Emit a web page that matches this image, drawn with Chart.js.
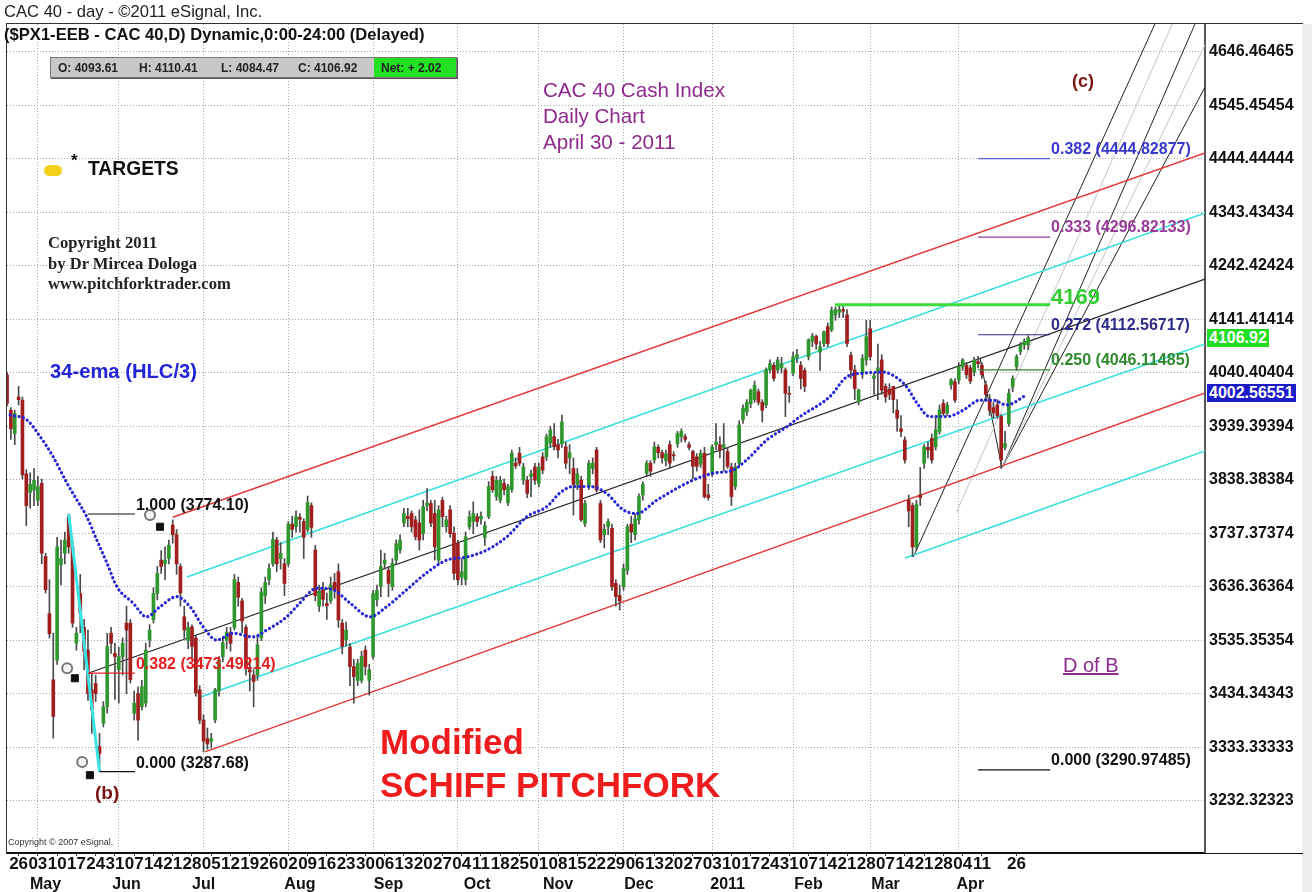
<!DOCTYPE html>
<html>
<head>
<meta charset="utf-8">
<script src="https://cdn.jsdelivr.net/npm/chart.js@4.4.1/dist/chart.umd.min.js"></script>
<style>
  html, body { margin: 0; padding: 0; background: #fff; }
  #wrap { position: relative; width: 1312px; height: 892px; overflow: hidden; font-family: "Liberation Sans", Arial, sans-serif; }
  #c { position: absolute; left: 0; top: 0; }
  .t { position: absolute; white-space: nowrap; line-height: 1; }
  #frame { position: absolute; left: 6px; top: 23px; width: 1296px; height: 829px; border-top: 1px solid #333; border-left: 1px solid #333; border-bottom: 1px solid #111; pointer-events: none; }
  #strip { position: absolute; left: 1302px; top: 24px; width: 10px; height: 868px; background: #eeeeee; }
  #ohlc { position: absolute; left: 50px; top: 57px; width: 405px; height: 19px; background: #c8c8c8; border: 1px solid #777; box-shadow: 1px 1px 0 #555; font-size: 12px; font-weight: bold; color: #222; }
  #ohlc span { position: absolute; top: 3px; }
  #net { position: absolute; left: 323px; top: 0; width: 82px; height: 19px; background: #22e022; }
  .fib { position: absolute; white-space: nowrap; line-height: 1; font-size: 16px; font-weight: bold; }
  .pbox { position: absolute; white-space: nowrap; line-height: 18px; height: 18px; font-size: 16px; font-weight: bold; color: #fff; padding: 0 2px; }
</style>
</head>
<body>
<div id="wrap">
  <canvas id="c" width="1312" height="892"></canvas>
  <div id="strip"></div>
  <div id="frame"></div>

  <div class="t" style="left:4px;top:4px;font-size:16.6px;color:#222;">CAC 40 - day - ©2011 eSignal, Inc.</div>
  <div class="t" style="left:4px;top:27px;font-size:16.6px;font-weight:bold;color:#111;">($PX1-EEB - CAC 40,D) Dynamic,0:00-24:00 (Delayed)</div>
  <div id="ohlc">
    <span style="left:7px;">O: 4093.61</span>
    <span style="left:88px;">H: 4110.41</span>
    <span style="left:170px;">L: 4084.47</span>
    <span style="left:247px;">C: 4106.92</span>
    <div id="net"><span style="left:7px;">Net: + 2.02</span></div>
  </div>

  <div class="t" style="left:543px;top:80px;font-size:20.6px;color:#8e2a8e;">CAC 40 Cash Index</div>
  <div class="t" style="left:543px;top:106px;font-size:20.6px;color:#8e2a8e;">Daily Chart</div>
  <div class="t" style="left:543px;top:132px;font-size:20.6px;color:#8e2a8e;">April 30 - 2011</div>

  <div class="t" style="left:44px;top:165px;width:18px;height:11px;border-radius:6px;background:#f4d21c;"></div>
  <div class="t" style="left:71px;top:152px;font-size:17px;font-weight:bold;color:#111;">*</div>
  <div class="t" style="left:88px;top:159px;font-size:19.3px;font-weight:bold;color:#111;">TARGETS</div>

  <div class="t" style="left:48px;top:235px;font-size:16.6px;font-weight:bold;font-family:'Liberation Serif',serif;color:#222;">Copyright 2011</div>
  <div class="t" style="left:48px;top:256px;font-size:16.6px;font-weight:bold;font-family:'Liberation Serif',serif;color:#222;">by Dr Mircea Dologa</div>
  <div class="t" style="left:48px;top:276px;font-size:16.6px;font-weight:bold;font-family:'Liberation Serif',serif;color:#222;">www.pitchforktrader.com</div>

  <div class="t" style="left:50px;top:361px;font-size:20.2px;font-weight:bold;color:#2424d8;">34-ema (HLC/3)</div>

  <div class="t" style="left:380px;top:724px;font-size:35px;font-weight:bold;color:#ee1c1c;">Modified</div>
  <div class="t" style="left:380px;top:767px;font-size:35px;font-weight:bold;color:#ee1c1c;">SCHIFF PITCHFORK</div>

  <div class="t" style="left:1063px;top:655px;font-size:20px;color:#8e2a8e;text-decoration:underline;">D of B</div>
  <div class="t" style="left:1072px;top:72px;font-size:18px;font-weight:bold;color:#7a1414;">(c)</div>
  <div class="t" style="left:95px;top:783px;font-size:19px;font-weight:bold;color:#7a1414;">(b)</div>
  <div class="t" style="left:8px;top:838px;font-size:9px;color:#333;">Copyright © 2007 eSignal.</div>

  <div id="fibs"></div>
</div>

<script>
// --- Price data (trading-day index starts at firstDay; day 0 = 26 Apr 2010) ---
const firstDay = -3;

const openPx = [4037,3970,3926,3995,3989,3850,3815,3819,3800,3832,3694,3586,3461,3498,3678,3700,3769,3712,3530,3624,3560,3517,3442,3454,3335,3379,3410,3549,3511,3480,3505,3568,3568,3398,3435,3410,3417,3536,3574,3624,3687,3680,3690,3753,3735,3675,3580,3535,3561,3540,3442,3385,3350,3345,3385,3440,3505,3535,3550,3560,3645,3610,3560,3480,3470,3470,3540,3620,3650,3680,3725,3690,3680,3680,3755,3750,3768,3760,3745,3790,3706,3600,3630,3605,3610,3645,3665,3568,3536,3523,3486,3460,3460,3517,3460,3505,3612,3637,3680,3668,3637,3687,3706,3757,3770,3775,3763,3757,3737,3790,3794,3775,3687,3800,3750,3782,3738,3719,3655,3650,3750,3760,3769,3765,3730,3769,3845,3807,3800,3832,3795,3820,3870,3889,3838,3838,3845,3863,3832,3882,3882,3908,3920,3905,3907,3901,3880,3860,3830,3838,3756,3826,3860,3895,3794,3735,3750,3747,3643,3620,3637,3668,3755,3735,3763,3810,3851,3870,3876,3900,3890,3875,3905,3885,3907,3920,3920,3905,3892,3882,3868,3889,3810,3851,3905,3905,3900,3892,3863,3826,3870,3952,3967,3982,3990,4005,3985,3980,4046,4055,4046,4050,4046,4002,4040,4070,4055,4045,4071,4100,4110,4080,4096,4128,4122,4150,4155,4160,4150,4074,4046,3986,4040,4065,4124,4030,4045,4065,4015,4010,4015,3970,3935,3914,3800,3790,3712,3810,3870,3900,3917,3901,3930,3983,3965,4018,4024,4027,4052,4055,4050,4042,4062,4055,4018,3989,3975,3980,3958,3900,3945,4014,4052,4081,4093,4093.61];
const highPx = [4042,3975,3970,4015,3995,3858,3852,3860,3845,3840,3700,3650,3549,3730,3725,3740,3774.1,3725,3560,3660,3575,3555,3473,3470,3360,3420,3549,3560,3530,3523,3540,3600,3575,3440,3448,3460,3530,3565,3635,3675,3705,3712,3725,3763,3745,3680,3600,3570,3565,3545,3450,3395,3370,3360,3445,3505,3540,3560,3560,3660,3655,3615,3565,3500,3480,3545,3635,3655,3680,3740,3730,3720,3690,3760,3770,3780,3775,3765,3808,3795,3715,3640,3645,3625,3655,3662,3680,3575,3570,3530,3500,3500,3515,3525,3490,3630,3640,3706,3700,3675,3690,3725,3735,3785,3785,3780,3770,3782,3800,3822,3800,3800,3790,3806,3770,3790,3750,3725,3690,3740,3780,3797,3775,3778,3760,3835,3855,3845,3845,3840,3830,3895,3880,3900,3870,3845,3857,3870,3870,3890,3925,3940,3945,3915,3961,3910,3905,3880,3860,3845,3800,3875,3880,3900,3800,3755,3765,3755,3650,3640,3680,3755,3770,3775,3812,3835,3875,3875,3910,3905,3895,3895,3912,3892,3930,3935,3925,3910,3895,3888,3895,3900,3830,3905,3945,3920,3945,3900,3870,3870,3950,3980,3990,4010,4025,4010,3990,4050,4065,4060,4070,4070,4050,4015,4080,4085,4062,4050,4105,4115,4112,4100,4120,4135,4165,4165,4169,4166,4160,4080,4055,4010,4075,4140,4140,4040,4095,4075,4020,4020,4015,3990,3960,3920,3810,3795,3800,3862,3905,3910,3925,3960,3980,3990,3985,4030,4030,4060,4068,4060,4055,4070,4072,4060,4025,4000,3985,3990,3962,3930,4010,4035,4075,4098,4105,4110.41];
const lowPx = [3978,3915,3905,3980,3840,3752,3785,3790,3790,3680,3625,3540,3351,3490,3640,3680,3700,3560,3517,3550,3480,3422,3360,3420,3287.68,3372,3398,3511,3424,3417,3470,3435,3455,3385,3347,3404,3410,3523,3568,3612,3662,3650,3680,3719,3660,3600,3540,3520,3500,3430,3378,3325,3330,3332,3380,3430,3495,3520,3515,3555,3600,3550,3470,3440,3410,3460,3535,3605,3640,3675,3665,3670,3620,3675,3730,3740,3740,3690,3740,3730,3610,3590,3600,3575,3605,3615,3560,3510,3525,3450,3417,3450,3455,3470,3432,3500,3600,3618,3670,3618,3630,3680,3700,3750,3750,3740,3725,3706,3725,3780,3750,3687,3680,3750,3740,3730,3650,3640,3640,3640,3745,3737,3750,3755,3715,3765,3815,3800,3795,3810,3790,3815,3860,3865,3830,3805,3807,3830,3825,3850,3875,3900,3895,3880,3900,3860,3850,3772,3820,3760,3750,3820,3850,3815,3720,3710,3735,3630,3600,3593,3630,3660,3720,3725,3755,3800,3845,3845,3870,3880,3870,3865,3860,3875,3900,3910,3910,3895,3841,3855,3862,3804,3800,3845,3895,3880,3855,3860,3790,3820,3865,3945,3960,3975,3985,3980,3948,3975,4040,4025,4040,4040,3958,3985,4035,4060,4010,4005,4065,4090,4085,4045,4090,4090,4118,4140,4145,4145,4090,4030,3990,3980,4030,4055,4065,4000,3990,4000,3985,3990,3965,3930,3920,3870,3750,3694,3705,3790,3860,3880,3870,3895,3925,3960,3960,4010,3985,4020,4045,4030,4020,4035,4050,4030,3990,3960,3955,3955,3860,3895,3940,4005,4045,4075,4085,4084.47];
const closePx = [3983,3935,3964,3990,3848,3790,3830,3838,3826,3700,3631,3548,3392,3712,3690,3725,3712,3568,3549,3587,3515,3435,3404,3435,3322,3410,3524,3530,3505,3505,3530,3555,3461,3417,3385,3448,3517,3555,3624,3662,3675,3687,3715,3735,3680,3625,3555,3560,3524,3436,3385,3345,3340,3350,3442,3498,3531,3551,3530,3650,3617,3572,3484,3476,3458,3527,3627,3645,3671,3726,3680,3700,3643,3755,3745,3769,3764,3730,3796,3749,3620,3628,3613,3601,3640,3631,3574,3524,3555,3486,3467,3492,3505,3486,3480,3624,3630,3675,3687,3643,3681,3718,3725,3775,3765,3750,3731,3725,3788,3795,3757,3712,3782,3769,3763,3737,3662,3650,3665,3731,3769,3775,3760,3770,3752,3826,3820,3838,3838,3820,3826,3889,3865,3870,3863,3813,3850,3838,3863,3857,3920,3933,3901,3895,3948,3870,3890,3830,3850,3763,3794,3870,3870,3819,3725,3745,3760,3637,3618,3610,3671,3750,3740,3765,3807,3830,3870,3855,3901,3890,3880,3888,3870,3884,3926,3930,3915,3900,3864,3864,3889,3807,3805,3901,3910,3895,3905,3864,3807,3863,3942,3974,3985,4008,4017,3985,3970,4046,4058,4030,4065,4058,4002,4000,4071,4075,4030,4015,4103,4110,4095,4090,4118,4096,4159,4160,4160,4157,4096,4046,4011,4008,4068,4109,4071,4035,4050,4008,3995,4000,3990,3955,3930,3876,3780,3712,3792,3805,3901,3895,3876,3933,3971,3964,3980,4027,3989,4052,4065,4037,4025,4065,4058,4037,4000,3970,3965,3960,3876,3907,4002,4030,4071,4093,4100,4106.92];

// 34-ema (HLC/3): [day, value]
const emaDays = [-2.2,2.1,5.6,8.9,12.5,15.1,17.7,20.3,22.9,25.5,29.7,33.2,36.7,41.0,44.5,47.9,51.4,55.6,60.8,64.4,69.6,73.0,77.4,81.6,86.0,91.2,95.5,100.7,105.9,111.1,116.3,121.5,126.7,131.9,137.1,140.5,143.9,148.3,152.6,156.9,160.4,165.6,171.7,175.0,180.2,185.4,188.9,194.2,199.4,202.8,210.6,214.9,219.2,224.4,228.0,230.5,233.1,236.5,240.9,245.1,249.5,252.9,256.4,261.6];
const emaValues = [3961,3952,3920,3883,3833,3801,3769,3725,3682,3637,3606,3580,3599,3618,3599,3561,3536,3549,3542,3555,3580,3606,3634,3631,3606,3580,3599,3631,3663,3687,3693,3706,3731,3769,3788,3814,3826,3826,3813,3782,3775,3800,3826,3838,3851,3857,3876,3914,3939,3958,3996,4033,4040,4042,4031,4014,3984,3958,3958,3970,3989,3989,3980,3999];

// --- Axis ticks ---
const weekTickDays = [0,5,10,15,20,25,30,35,40,45,50,55,60,65,70,75,80,85,90,95,100,105,110,115,120,125,130,135,140,145,150,155,160,165,170,175,180,185,190,195,200,205,210,215,220,225,230,235,240,245,250,259];
const weekTickLabels = ['26','03','10','17','24','31','07','14','21','28','05','12','19','26','02','09','16','23','30','06','13','20','27','04','11','18','25','01','08','15','22','29','06','13','20','27','03','10','17','24','31','07','14','21','28','07','14','21','28','04','11','26'];
const monthLabelDays = [7,28,48,73,96,119,140,161,184,205,225,247];
const monthLabels = ['May','Jun','Jul','Aug','Sep','Oct','Nov','Dec','2011','Feb','Mar','Apr'];
const monthStartDays = [5,26,48,70,92,114,135,157,180,201,221,244];
const priceTickValues = [3232.32323,3333.33333,3434.34343,3535.35354,3636.36364,3737.37374,3838.38384,3939.39394,4040.40404,4141.41414,4242.42424,4343.43434,4444.44444,4545.45454,4646.46465];
const priceTickLabels = ['3232.32323','3333.33333','3434.34343','3535.35354','3636.36364','3737.37374','3838.38384','3939.39394','4040.40404','4141.41414','4242.42424','4343.43434','4444.44444','4545.45454','4646.46465'];

// --- Pitchfork drawing: [day, price] end points ---
const forkUpperRed = [[40, 3768], [307.9, 4455.7]];
const forkUpperCyan = [[43.7, 3655], [307.9, 4342.5]];
const forkMedian = [[18, 3473.5], [307.9, 4217.8]];
const forkLowerCyan = [[47, 3428], [307.9, 4095]];
const forkLowerRed = [[48.4, 3325], [307.9, 4002.56551]];
const extraCyan = [[230.1, 3691], [307.9, 3893]];
const swingBC = [[13, 3774.1], [21, 3287.68]];
const steepBlack1 = [[232.2, 3693], [294.9, 4699.3]];
const steepBlack2 = [[255.2, 3861], [305.3, 4699.3]];
const steepBlack3 = [[255.2, 3861], [307.9, 4580]];
const steepGrey1 = [[243.4, 3777], [299.4, 4699.3]];
const steepGrey2 = [[255.2, 3861], [307.9, 4660]];
const aprilSwing = [[249.5, 4069], [255.2, 3861]];

// --- Fibonacci levels ---
const leftFibValues = [3774.10, 3473.49214, 3287.68];
const leftFibLabels = ['1.000 (3774.10)', '0.382 (3473.49214)', '0.000 (3287.68)'];
const leftFibStart = [18, 18, 21];
const leftFibEnd = 30.2;
const rightFibValues = [4444.82877, 4296.82133, 4112.56717, 4046.11485, 3290.97485];
const rightFibLabels = ['0.382 (4444.82877)', '0.333 (4296.82133)', '0.272 (4112.56717)', '0.250 (4046.11485)', '0.000 (3290.97485)'];
const rightFibStart = 249;
const rightFibEnd = 267.7;
const febHigh = 4169;
const febHighStart = 211.9;

// pivot markers [day, price]
const markerSquares = [[14.6, 3464], [36.7, 3750], [18.5, 3281]];
const markerRings = [[12.6, 3483], [34.1, 3772], [16.5, 3306]];

const lastClose = 4106.92;
const lowerTineValue = 4002.56551;

// --- Build datasets ---
const candleDays = openPx.map((_, k) => firstDay + k);
const wickData = candleDays.map((d, k) => ({ x: d, y: [lowPx[k], highPx[k]] }));
const bodyData = candleDays.map((d, k) => ({ x: d, y: [openPx[k], closePx[k]] }));
const bodyColors = closePx.map((c, k) => c >= openPx[k] ? '#2e982e' : '#a11e1e');

const xy = pts => pts.map(p => ({ x: p[0], y: p[1] }));
function seg(pts, color, width, order, extra) {
  return Object.assign({
    type: 'line', data: xy(pts), borderColor: color, borderWidth: width,
    pointRadius: 0, fill: false, tension: 0, order: order
  }, extra || {});
}

const leftFibColors = ['#111', '#e02020', '#111'];
const rightFibColors = ['#3838cc', '#983a98', '#2c2c88', '#2f8a2f', '#111'];

const datasets = [
  seg(forkUpperRed, '#e23a3a', 1.5, 20),
  seg(forkUpperCyan, '#35dede', 1.5, 20),
  seg(forkMedian, '#222', 1.2, 20),
  seg(forkLowerCyan, '#35dede', 1.5, 20),
  seg(forkLowerRed, '#e23a3a', 1.5, 20),
  seg(extraCyan, '#35dede', 1.5, 20),
  seg(steepGrey1, '#c4c4c4', 1, 20),
  seg(steepGrey2, '#c4c4c4', 1, 20),
  seg(steepBlack1, '#222', 1, 20),
  seg(steepBlack2, '#222', 1, 20),
  seg(steepBlack3, '#222', 1, 20),
  seg(aprilSwing, '#222', 1, 20),
  { type: 'bar', data: wickData, backgroundColor: '#4a4a4a', barThickness: 1, grouped: false, order: 12 },
  { type: 'bar', data: bodyData, backgroundColor: bodyColors, barThickness: 3, minBarLength: 1, grouped: false, order: 11 },
  seg(swingBC, '#3be4e4', 3, 5),
  {
    type: 'line', data: emaDays.map((d, k) => ({ x: d, y: emaValues[k] })),
    borderColor: '#2626d6', borderWidth: 3.2, borderDash: [0.1, 4.4], borderCapStyle: 'round',
    pointRadius: 0, fill: false, cubicInterpolationMode: 'monotone', order: 4
  },
  seg([[febHighStart, febHigh], [rightFibEnd, febHigh]], '#3ddc3d', 3, 3)
];
leftFibValues.forEach((v, k) => datasets.push(seg([[leftFibStart[k], v], [leftFibEnd, v]], leftFibColors[k], 1.2, 3)));
rightFibValues.forEach((v, k) => datasets.push(seg([[rightFibStart, v], [rightFibEnd, v]], rightFibColors[k], 1.2, 3)));
datasets.push({ type: 'scatter', data: xy(markerRings), pointStyle: 'circle', pointRadius: 5, backgroundColor: '#f4f4f4', borderColor: '#777', borderWidth: 2, order: 2 });
datasets.push({ type: 'scatter', data: xy(markerSquares), pointStyle: 'rect', pointRadius: 5, backgroundColor: '#111', borderColor: '#111', borderWidth: 1, order: 1 });

const dayMin = -3.01, dayMax = 307.9;
const gridDash = [1, 2];

const chart = new Chart(document.getElementById('c').getContext('2d'), {
  type: 'bar',
  data: { datasets },
  options: {
    responsive: false,
    animation: false,
    devicePixelRatio: 1,
    layout: { padding: { left: 7, top: 24, right: 0, bottom: 0 } },
    plugins: { legend: { display: false }, tooltip: { enabled: false } },
    scales: {
      x: {
        type: 'linear', position: 'bottom', min: dayMin, max: dayMax, offset: false, weight: 1,
        afterBuildTicks: s => { s.ticks = weekTickDays.map(v => ({ value: v })); },
        afterFit: s => { s.height = 23; },
        ticks: { autoSkip: false, maxRotation: 0, minRotation: 0, padding: -2, color: '#111',
          font: { family: 'Liberation Sans', size: 17, weight: 'bold' },
          callback: (v, i) => weekTickLabels[i] },
        grid: { drawOnChartArea: false, drawTicks: true, tickLength: 4, color: '#333', offset: false },
        border: { display: true, color: '#111', width: 1 }
      },
      xm: {
        type: 'linear', position: 'bottom', min: dayMin, max: dayMax, offset: false, weight: 2,
        afterBuildTicks: s => { s.ticks = monthLabelDays.map(v => ({ value: v })); },
        afterFit: s => { s.height = 17; },
        ticks: { autoSkip: false, maxRotation: 0, minRotation: 0, padding: 0, color: '#111',
          font: { family: 'Liberation Sans', size: 16, weight: 'bold' },
          callback: (v, i) => monthLabels[i] },
        grid: { display: false, drawTicks: false, tickLength: 0 },
        border: { display: false }
      },
      xg: {
        type: 'linear', position: 'bottom', min: dayMin, max: dayMax, offset: false, weight: 0,
        afterBuildTicks: s => { s.ticks = monthStartDays.map(v => ({ value: v })); },
        afterFit: s => { s.height = 0; },
        ticks: { display: false },
        grid: { color: '#a8a8a8', drawTicks: false, lineWidth: 1, offset: false },
        border: { display: false, dash: gridDash }
      },
      y: {
        type: 'linear', position: 'right', min: 3135.9, max: 4699.3,
        afterBuildTicks: s => { s.ticks = priceTickValues.map(v => ({ value: v })); },
        afterFit: s => { s.width = 107; },
        ticks: { padding: 4, color: '#111', font: { family: 'Liberation Sans', size: 16, weight: 'bold' },
          callback: (v, i) => priceTickLabels[i] },
        grid: { color: '#a8a8a8', drawTicks: false, lineWidth: 1 },
        border: { display: true, color: '#555', width: 2, dash: gridDash }
      }
    }
  }
});

// --- Level labels anchored through the chart scales ---
const xs = chart.scales.x, ys = chart.scales.y;
const fibBox = document.getElementById('fibs');
function addLabel(text, day, price, dy, cls, style) {
  const el = document.createElement('div');
  el.className = cls;
  el.textContent = text;
  Object.assign(el.style, style);
  el.style.left = (xs.getPixelForValue(day) + 1) + 'px';
  el.style.top = (ys.getPixelForValue(price) + dy) + 'px';
  fibBox.appendChild(el);
  return el;
}
leftFibValues.forEach((v, k) => addLabel(leftFibLabels[k], leftFibEnd, v, -17, 'fib', { color: leftFibColors[k] }));
rightFibValues.forEach((v, k) => addLabel(rightFibLabels[k], rightFibEnd, v, -18, 'fib', { color: rightFibColors[k] }));
addLabel(String(febHigh), rightFibEnd, febHigh, -19, 'fib', { color: '#33cc33', fontSize: '22px' });

const axisX = xs.right + 2;
const g = document.createElement('div');
g.className = 'pbox'; g.textContent = lastClose.toFixed(2);
Object.assign(g.style, { left: axisX + 'px', top: (ys.getPixelForValue(lastClose) - 9) + 'px', background: '#22dd22' });
fibBox.appendChild(g);
const b = document.createElement('div');
b.className = 'pbox'; b.textContent = lowerTineValue.toFixed(5);
Object.assign(b.style, { left: axisX + 'px', top: (ys.getPixelForValue(lowerTineValue) - 9) + 'px', background: '#1c1cc8' });
fibBox.appendChild(b);
</script>
</body>
</html>
